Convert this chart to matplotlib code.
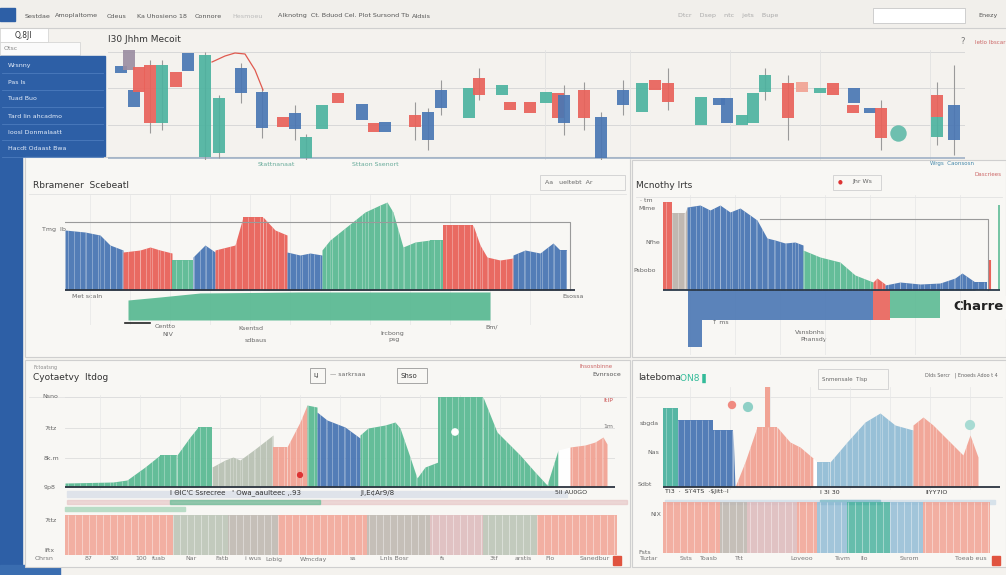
import numpy as np
import matplotlib.pyplot as plt
from matplotlib.patches import Rectangle

W, H = 1006, 575

PAL = {
    "b": "#4a77b4", "c": "#e9625a", "g": "#5cba94", "t": "#4db3a0",
    "l": "#93bdd6", "s": "#f1a394", "y": "#bdb5ae", "m": "#9c8ea2",
    "k": "#b9c2b4", "p": "#dcb9bb", "w": "#ffffff00",
}

# ---- top candlestick chart (time in px-like units, price 0..110)
candle_t = [121, 129, 134, 139, 150, 162, 176, 188, 205, 219, 241, 262, 283, 295,
            306, 322, 338, 362, 374, 385, 415, 428, 441, 469, 479, 502, 510, 530,
            546, 558, 564, 584, 601, 623, 642, 655, 668, 701, 719, 727, 742, 753,
            765, 788, 802, 820, 833, 854, 853, 870, 881, 937, 937, 954]
candle_lo = [87, 90, 53, 68, 37, 37, 73, 89, 3, 7, 67, 32, 33, 31,
             2, 31, 57, 40, 28, 28, 33, 20, 52, 42, 65, 65, 50, 47,
             57, 42, 37, 42, 2, 55, 48, 70, 58, 35, 55, 37, 35, 37,
             68, 42, 68, 67, 65, 57, 47, 47, 22, 43, 23, 20]
candle_hi = [94, 110, 70, 93, 95, 95, 88, 107, 105, 62, 92, 68, 43, 47,
             23, 55, 67, 56, 37, 38, 45, 48, 70, 72, 82, 75, 58, 58,
             68, 67, 65, 70, 43, 70, 77, 80, 77, 63, 62, 62, 45, 67,
             85, 77, 78, 72, 77, 72, 55, 52, 52, 65, 43, 55]
candle_col = ["b", "m", "b", "c", "c", "t", "c", "b", "t", "t", "b", "b", "c", "b",
              "t", "t", "c", "b", "c", "b", "c", "b", "b", "t", "c", "t", "c", "c",
              "t", "c", "b", "c", "b", "b", "t", "c", "c", "t", "b", "b", "t", "t",
              "t", "c", "s", "t", "c", "b", "c", "b", "c", "c", "t", "b"]
wick_t = [150, 162, 205, 219, 241, 262, 295, 306, 415, 428, 441, 479, 564, 584,
          601, 623, 668, 765, 788, 881, 937, 954]
wick_lo = [27, 30, 0, 2, 57, 22, 20, 0, 20, 10, 45, 60, 25, 30, 0, 45, 50, 60, 20, 10, 15, 5]
wick_hi = [100, 100, 108, 65, 97, 72, 55, 26, 58, 52, 80, 92, 75, 78, 48, 80, 92, 92, 85, 60, 78, 95]
trend_t = [212, 225, 235, 245, 255, 263]
trend_p = [98, 104, 107, 106, 90, 70]
blob_t = [898]
blob_p = [27]

# ---- middle-left area chart
ml_x = [65, 85, 100, 110, 123, 123, 140, 150, 160, 172, 172, 193, 193, 205, 215,
        215, 235, 243, 263, 275, 287, 287, 300, 310, 322, 322, 330, 345, 365, 380,
        387, 393, 403, 415, 430, 443, 443, 473, 480, 487, 500, 513, 513, 525, 540,
        553, 560, 567]
ml_y = [60, 58, 55, 45, 40, 38, 40, 43, 40, 37, 30, 30, 33, 45, 38,
        40, 45, 73, 73, 60, 55, 38, 35, 37, 35, 40, 50, 62, 78, 85,
        88, 78, 43, 48, 50, 50, 65, 65, 45, 33, 30, 32, 35, 40, 37,
        47, 40, 40]
ml_c = ["b"] * 5 + ["c"] * 5 + ["g"] * 2 + ["b"] * 3 + ["c"] * 6 + ["b"] * 4 + \
       ["g"] * 11 + ["c"] * 6 + ["b"] * 6
ml_low_x = [128, 160, 200, 300, 490]
ml_low_top = [-10, -7, -3, -2, -2]
ml_low_bot = [-30, -30, -30, -30, -30]

# ---- middle-right area chart
mr_x = [663, 672, 672, 685, 687, 700, 710, 720, 730, 740, 750, 757, 767, 775, 785,
        795, 803, 803, 820, 840, 855, 873, 873, 877, 885, 885, 900, 920, 940, 955,
        962, 975, 987]
mr_y = [88, 88, 77, 77, 83, 85, 80, 85, 78, 82, 75, 70, 52, 50, 47,
        48, 45, 40, 33, 28, 15, 8, 8, 12, 6, 5, 8, 6, 7, 12,
        17, 8, 8]
mr_c = ["c"] * 2 + ["y"] * 2 + ["b"] * 13 + ["g"] * 5 + ["c"] * 3 + ["b"] * 8
mr_low_x = [688, 702, 702, 873, 873, 890, 890, 940]
mr_low_y = [-57, -57, -30, -30, -30, -30, -28, -28]
mr_low_c = ["b", "b", "b", "b", "c", "c", "g", "g"]

# ---- bottom-left area chart + band
bl_x = [65, 113, 127, 145, 160, 177, 190, 198, 212, 212, 225, 233, 240, 255, 273,
        273, 287, 300, 307, 307, 317, 317, 327, 345, 360, 360, 368, 385, 395, 400,
        410, 417, 425, 438, 438, 483, 497, 510, 520, 535, 547, 558, 570, 585, 595,
        603, 607]
bl_y = [4, 5, 7, 20, 32, 32, 50, 60, 60, 20, 27, 30, 27, 38, 52,
        40, 40, 65, 82, 82, 80, 75, 67, 60, 49, 52, 59, 62, 65, 59,
        30, 9, 20, 25, 90, 90, 55, 42, 32, 15, 2, 37, 40, 42, 45,
        50, 43]
bl_c = ["g"] * 9 + ["k"] * 6 + ["s"] * 4 + ["g"] * 2 + ["b"] * 4 + ["g"] * 9 + \
       ["g"] * 7 + ["w"] + ["s"] * 5
bl_band_edges = [65, 173, 228, 278, 367, 430, 483, 537, 617]
bl_band_col = ["s", "k", "y", "s", "y", "p", "k", "s"]

# ---- bottom-right area chart + band
br_x = [663, 678, 678, 713, 713, 733, 735, 745, 757, 777, 790, 800, 813, 817, 830,
        847, 865, 880, 895, 913, 913, 923, 933, 950, 963, 970, 978]
br_y = [79, 79, 67, 67, 57, 57, 0, 25, 60, 60, 45, 40, 29, 25, 25,
        45, 65, 74, 62, 57, 62, 70, 62, 45, 32, 52, 30]
br_c = ["t"] * 2 + ["b"] * 4 + ["s"] * 6 + ["w"] + ["l"] * 7 + ["s"] * 7
br_band_edges = [663, 720, 747, 797, 817, 847, 890, 923, 990]
br_band_col = ["s", "y", "p", "s", "l", "t", "l", "s"]

fig = plt.figure(figsize=(W / 100, H / 100), dpi=100)
fig.patch.set_facecolor("#f4f2ee")


def rect(x0, y0, x1, y1):
    return [x0 / W, 1 - y1 / H, (x1 - x0) / W, (y1 - y0) / H]


def chart_ax(x0, y0, x1, y1):
    ax = fig.add_axes(rect(x0, y0, x1, y1))
    ax.set_facecolor("none")
    for s in ax.spines.values():
        s.set_visible(False)
    ax.set_xticks([])
    ax.set_yticks([])
    return ax


def area(ax, xs, ys, cs, alpha=0.95):
    for i in range(len(xs) - 1):
        ax.fill_between(xs[i:i + 2], 0, ys[i:i + 2], color=PAL[cs[i]], lw=0, alpha=alpha)
    sx = np.arange(xs[0] + 3, xs[-1], 6)
    ax.vlines(sx, 0, np.interp(sx, xs, ys), color="white", lw=0.6, alpha=0.35)


def band(ax, edges, cols):
    e = np.array(edges)
    ax.bar(e[:-1], np.ones(len(cols)), width=np.diff(e), align="edge",
           color=[PAL[c] for c in cols], alpha=0.85, lw=0)
    sx = np.arange(e[0] + 3, e[-1], 7)
    ax.vlines(sx, 0, 1, color="white", lw=0.7, alpha=0.4)
    ax.set_xlim(e[0], e[-1])
    ax.set_ylim(0, 1)


# background / UI chrome in pixel coordinates
bg = fig.add_axes([0, 0, 1, 1])
bg.set_xlim(0, W)
bg.set_ylim(H, 0)
bg.axis("off")
t = dict(fontsize=4.6, color="#555", va="center")

bg.add_patch(Rectangle((0, 0), W, 28, color="#f1efeb"))
bg.plot([0, W], [28, 28], color="#cfcfcf", lw=0.8)
bg.add_patch(Rectangle((0, 8), 15, 13, color="#2d5fa6"))
for x, s in [(25, "Sestdae"), (55, "Amoplaltome"), (107, "Cdeus"), (137, "Ka Uhosieno 18"),
             (195, "Connore"), (278, "Alknotng  Ct. Bduod Cel. Plot Sursond Tb"), (412, "Aldsis")]:
    bg.text(x, 16, s, **t)
bg.text(232, 16, "Hesmoeu", fontsize=4.6, color="#bbb", va="center")
bg.text(678, 16, "Dtcr    Dsep    ntc    jets    Bupe", fontsize=4.6, color="#aaa", va="center")
bg.add_patch(Rectangle((873, 8), 92, 15, fc="white", ec="#c8c8c8", lw=0.6))
bg.text(978, 16, "Enezy", **t)

# left widgets and sidebar
bg.add_patch(Rectangle((0, 28), 48, 14, fc="white", ec="#d0d0d0", lw=0.5))
bg.text(15, 35, "Q,8Jl", fontsize=5.5, color="#333", va="center")
bg.add_patch(Rectangle((0, 42), 80, 13, fc="#fafafa", ec="#d0d0d0", lw=0.5))
bg.text(4, 48, "Otsc", fontsize=4.5, color="#888", va="center")
bg.add_patch(Rectangle((0, 56), 105, 100, color="#2d5fa6"))
bg.add_patch(Rectangle((0, 155), 22, 412, color="#2d5fa6"))
bg.add_patch(Rectangle((0, 565), 60, 10, color="#3a6db0"))
for y, s in [(65, "Wrsnny"), (82, "Pas ls"), (99, "Tuad Buo"), (116, "Tard lin ahcadmo"),
             (132, "Ioosl Donmalaatt"), (149, "Hacdt Odaast Bwa")]:
    bg.text(8, y, s, fontsize=4.5, color="#e6eefa", va="center")
    bg.plot([2, 103], [y + 8, y + 8], color="#4b7bbd", lw=0.6)

# top chart title and frame
bg.text(108, 40, "I30 Jhhm Mecoit", fontsize=6.5, color="#333", va="center")
bg.text(960, 42, "?", fontsize=6, color="#777", va="center")
bg.text(975, 42, "Ietlo Ibscar", fontsize=4, color="#c66", va="center")
bg.text(258, 164, "Stattnanaat", fontsize=4.5, color="#6a9", va="center")
bg.text(352, 164, "Sttaon Ssenort", fontsize=4.5, color="#6a9", va="center")

# panels
for (x0, y0, x1, y1) in [(25, 157, 630, 357), (632, 160, 1006, 357),
                         (25, 360, 630, 567), (632, 360, 1006, 567)]:
    bg.add_patch(Rectangle((x0, y0), x1 - x0, y1 - y0, fc="#f8f7f4", ec="#cfcfcf", lw=0.8))
    bg.plot([x0 + 4, x1 - 4], [y0 + 37, y0 + 37], color="#e2e2e2", lw=0.6)

bg.text(33, 185, "Rbramener  Scebeatl", fontsize=6.5, color="#333", va="center")
bg.add_patch(Rectangle((540, 175), 85, 15, fc="#f8f7f4", ec="#cfcfcf", lw=0.6))
bg.text(545, 182, "Aa   ueltebt  Ar", fontsize=4.5, color="#666", va="center")
bg.text(930, 163, "Wrgs  Caonsosn", fontsize=4, color="#48a", va="center")
bg.text(636, 185, "Mcnothy Irts", fontsize=6.5, color="#333", va="center")
bg.add_patch(Rectangle((833, 175), 48, 15, fc="#f8f7f4", ec="#cfcfcf", lw=0.6))
bg.text(838, 182, "\u25cf", fontsize=4, color="#d33", va="center")
bg.text(852, 182, "Jhr Ws", fontsize=4.5, color="#666", va="center")
bg.text(975, 175, "Dascriees", fontsize=4, color="#c66", va="center")
bg.add_patch(Rectangle((945, 296), 61, 22, color="#f8f7f4"))
bg.text(953, 307, "Charre", fontsize=9.5, color="#222", va="center", fontweight="bold")

bg.text(33, 378, "Cyotaetvy  Itdog", fontsize=6.5, color="#333", va="center")
bg.text(34, 368, "Fctoatsng", fontsize=3.5, color="#888", va="center")
bg.add_patch(Rectangle((310, 368), 15, 15, fc="#f8f7f4", ec="#999", lw=0.6))
bg.text(313, 376, "LJ", fontsize=4.5, color="#333", va="center")
bg.text(330, 375, "\u2014 sarkrsaa", fontsize=4.5, color="#666", va="center")
bg.add_patch(Rectangle((397, 368), 30, 15, fc="#f8f7f4", ec="#999", lw=0.6))
bg.text(401, 376, "Shso", fontsize=5, color="#333", va="center")
bg.text(580, 366, "Ihsosnbinne", fontsize=4, color="#c66", va="center")
bg.text(592, 374, "Evnrsoce", fontsize=4.5, color="#555", va="center")
bg.text(638, 378, "Iateboma", fontsize=6.5, color="#333", va="center")
bg.text(680, 378, "ON8 \u258c", fontsize=6.5, color="#3b9", va="center")
bg.add_patch(Rectangle((818, 369), 70, 20, fc="#f8f7f4", ec="#cfcfcf", lw=0.6))
bg.text(822, 379, "Snmensale  Tlsp", fontsize=4, color="#666", va="center")
bg.text(925, 375, "Dlds Sercr   | Enoeds Adoo t 4", fontsize=3.5, color="#666", va="center")

# axis text fragments
for x, y, s in [(42, 230, "Tmg  Ib"), (72, 297, "Met scaln"), (155, 326, "Centto"),
                (162, 334, "NIV"), (238, 328, "Ksentsd"), (245, 340, "sdbaus"),
                (380, 333, "Ircbong"), (388, 340, "psg"), (485, 327, "Bm/"),
                (562, 297, "Esossa"), (640, 200, "\u00b7 tm"), (638, 208, "Mlme"),
                (645, 242, "Nfhe"), (633, 270, "Psbobo"), (712, 323, "\u2191 ms"),
                (795, 333, "Vsnsbnhs"), (800, 340, "Phansdy"), (42, 397, "Nsno"),
                (44, 428, "7ttz"), (44, 458, "8k.m"), (44, 488, "9p8"), (44, 520, "7ttz"),
                (44, 551, "Iftx"), (640, 424, "sbgda"), (647, 452, "Nas"), (638, 485, "Sdbt"),
                (650, 515, "NIX"), (638, 553, "Fsts")]:
    bg.text(x, y, s, fontsize=4.5, color="#666", va="center")
bg.text(603, 400, "ItIP", fontsize=4.5, color="#c55", va="center")
bg.text(603, 426, "1m", fontsize=4.5, color="#777", va="center")
for x, s in [(35, "Ohrsn"), (85, "87"), (110, "36I"), (135, "100"), (152, "fuab"),
             (185, "Nar"), (215, "Fatb"), (245, "i wus"), (265, "Lobig"), (300, "Wmcday"),
             (350, "ss"), (380, "Lnls Bosr"), (440, "fs"), (490, "3tf"), (515, "arstis"),
             (545, "Flo"), (580, "Sanedbur")]:
    bg.text(x, 559, s, fontsize=4.5, color="#777", va="center")
for x, s in [(640, "Tsztar"), (680, "Ssts"), (700, "Toasb"), (735, "Ttt"), (790, "Loveoo"),
             (835, "Tsvm"), (860, "Ilo"), (900, "Ssrom"), (955, "Toeab eus")]:
    bg.text(x, 559, s, fontsize=4.5, color="#777", va="center")
bg.add_patch(Rectangle((613, 556), 8, 9, color="#e0533f"))
bg.add_patch(Rectangle((992, 556), 8, 9, color="#e0533f"))

# messy legend strips
bg.add_patch(Rectangle((67, 491), 500, 6, color="#dfe3ea"))
bg.add_patch(Rectangle((67, 500), 560, 4, color="#e8c8c8", alpha=0.7))
bg.add_patch(Rectangle((170, 500), 150, 4, color="#6cc09a", alpha=0.7))
bg.add_patch(Rectangle((65, 507), 120, 4, color="#b9dcc6"))
bg.text(170, 493, "I \u0398IC'C Ssrecree   ' Owa_aaulteec ,.93", fontsize=5, color="#333", va="center")
bg.text(360, 493, "JI,E\u00a2Ar9/8", fontsize=5, color="#333", va="center")
bg.text(555, 493, "5II AU0GO", fontsize=4.5, color="#333", va="center")
bg.add_patch(Rectangle((665, 500), 330, 4, color="#d7e2ea"))
bg.add_patch(Rectangle((820, 500), 60, 4, color="#8fc3cf"))
bg.text(665, 492, "TI3  \u00b7  ST4TS  \u00b7$Jitt\u00b7\u00b7I",
        fontsize=4.5, color="#333", va="center")
bg.text(820, 492, "I 3I 30", fontsize=4.5, color="#333", va="center")
bg.text(925, 492, "IIYY7IO", fontsize=4.5, color="#333", va="center")

# ---- top candlestick chart
ax = chart_ax(108, 50, 965, 160)
ax.set_xlim(108, 965)
ax.set_ylim(0, 110)
for yv in [108, 72, 35]:
    ax.axhline(yv, color="#d8d8d8", lw=0.7, zorder=0)
for xv in [545, 630, 730, 820, 930]:
    ax.axvline(xv, color="#e2e2e2", lw=0.6, zorder=0)
ax.axhline(2, color="#9fb1c6", lw=1.2, zorder=0)
ax.vlines(wick_t, wick_lo, wick_hi, color="#9a9a9a", lw=0.8, zorder=1)
lo = np.array(candle_lo)
hi = np.array(candle_hi)
ax.bar(candle_t, hi - lo, bottom=lo, width=12, color=[PAL[c] for c in candle_col],
       alpha=0.92, lw=0, zorder=2)
ax.plot(trend_t, trend_p, color="#e05a4f", lw=0.9, zorder=3)
ax.scatter(blob_t, blob_p, s=140, color=PAL["t"], alpha=0.8, lw=0, zorder=3)

# ---- middle-left
ax = chart_ax(65, 195, 575, 325)
ax.set_xlim(65, 575)
ax.set_ylim(-35, 95)
for xv in np.arange(90, 570, 40):
    ax.axvline(xv, color="#e6e6e6", lw=0.5, zorder=0)
area(ax, ml_x, ml_y, ml_c)
ax.fill_between(ml_low_x, ml_low_top, ml_low_bot, color=PAL["g"], lw=0, alpha=0.95)
ax.plot([65, 570, 570], [68, 68, 0], color="#9a9a9a", lw=0.8)
ax.axhline(0, color="#2c3440", lw=1.3)
ax.plot([125, 150], [-33, -33], color="#222", lw=1.2)

# ---- middle-right
ax = chart_ax(663, 195, 1000, 355)
ax.set_xlim(663, 1000)
ax.set_ylim(-65, 95)
for xv in np.arange(690, 1000, 45):
    ax.axvline(xv, color="#e6e6e6", lw=0.5, zorder=0)
area(ax, mr_x, mr_y, mr_c)
for i in range(len(mr_low_x) - 1):
    ax.fill_between(mr_low_x[i:i + 2], 0, mr_low_y[i:i + 2], color=PAL[mr_low_c[i]],
                    lw=0, alpha=0.9)
ax.plot([760, 988, 988], [71, 71, 0], color="#9a9a9a", lw=0.8)
ax.vlines([990], 0, 30, color=PAL["c"], lw=1.5)
ax.vlines([999], 0, 85, color=PAL["g"], lw=1.2)
ax.axhline(0, color="#2c3a4a", lw=1.3)

# ---- bottom-left
ax = chart_ax(65, 395, 615, 490)
ax.set_xlim(65, 615)
ax.set_ylim(-3, 92)
for yv in [90, 59, 29]:
    ax.axhline(yv, color="#dddddd", lw=0.6, zorder=0)
for xv in np.arange(100, 615, 40):
    ax.axvline(xv, color="#e8e8e8", lw=0.5, zorder=0)
area(ax, bl_x, bl_y, bl_c)
ax.scatter([300, 455], [12, 55], s=[12, 20], color=["#d33", "white"], zorder=3)
ax.axhline(0, color="#2c3440", lw=1.3)
ax = chart_ax(65, 515, 617, 555)
band(ax, bl_band_edges, bl_band_col)

# ---- bottom-right
ax = chart_ax(663, 387, 1000, 490)
ax.set_xlim(663, 1000)
ax.set_ylim(-3, 100)
for xv in np.arange(690, 1000, 40):
    ax.axvline(xv, color="#e6e6e6", lw=0.5, zorder=0)
area(ax, br_x, br_y, br_c)
ax.bar([767], [40], bottom=[60], width=5, color=PAL["s"], lw=0)
ax.scatter([732, 748, 970], [82, 80, 62], s=[25, 40, 40],
           color=["#f08a80", "#8fd0c6", "#a8dbd3"], zorder=3)
ax.axhline(0, color="#2c3440", lw=1.3)
ax = chart_ax(663, 502, 990, 553)
band(ax, br_band_edges, br_band_col)

fig.savefig("out.png", dpi=100, facecolor=fig.get_facecolor())
